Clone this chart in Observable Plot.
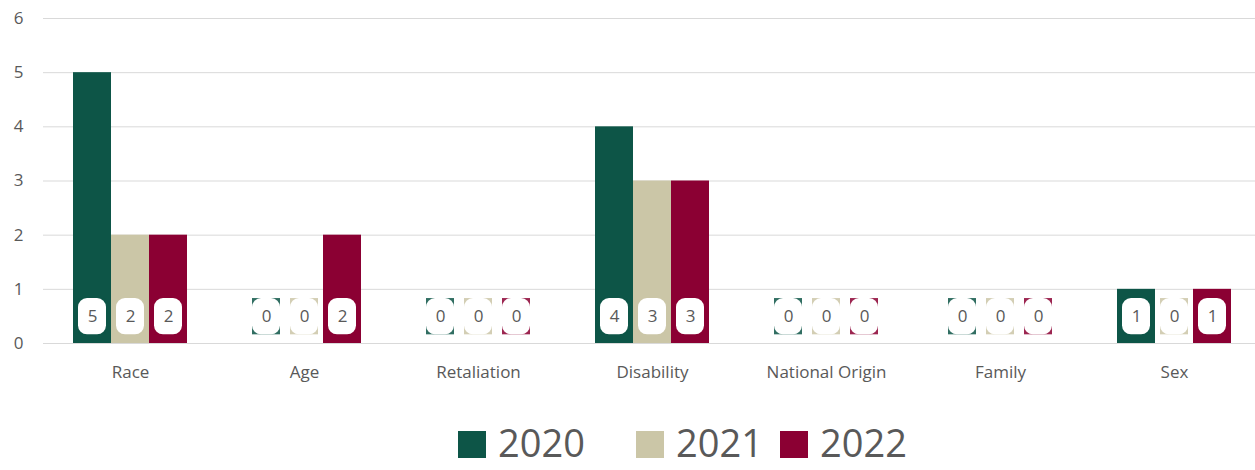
<!DOCTYPE html>
<html>
<head>
<meta charset="utf-8">
<script src="https://cdn.jsdelivr.net/npm/d3@7"></script>
<script src="https://cdn.jsdelivr.net/npm/@observablehq/plot@0.6"></script>
<style>
  html, body { margin: 0; padding: 0; background: #fff; overflow: hidden; }
  #chart svg { display: block; overflow: visible; }
  #legend { position: relative; height: 70px; font-family: "Open Sans", sans-serif; color: #595959; font-size: 38px; line-height: 38px; }
  .sw { position: absolute; top: 31px; width: 28px; height: 27px; }
  .lt { position: absolute; top: 23px; height: 38px; white-space: nowrap; }
</style>
</head>
<body>
<div id="chart"></div>
<div id="legend"></div>
<script>
const categories = ["Race", "Age", "Retaliation", "Disability", "National Origin", "Family", "Sex"];
const years = ["2020", "2021", "2022"];
const values2020 = [5, 0, 0, 4, 0, 0, 1];
const values2021 = [2, 0, 0, 3, 0, 0, 0];
const values2022 = [2, 2, 0, 3, 0, 0, 1];
const colors = ["#0d5547", "#cbc6a7", "#8b0033"];
const yTicks = [0, 1, 2, 3, 4, 5, 6];

const series = [values2020, values2021, values2022];
const font = "'Open Sans', sans-serif";
const textColor = "#595959";

// bar placement within each 174px band: group of 3 bars 38px wide, 30px side padding
const barW = 38, side = 30, band = 174;
const marks = [
  Plot.ruleY(yTicks, {stroke: "#d9d9d9", strokeWidth: 1})
];
series.forEach((vals, i) => {
  const data = categories.map((c, k) => ({category: c, value: vals[k]}));
  const insetLeft = side + barW * i;
  const insetRight = band - side - barW * (i + 1);
  marks.push(Plot.barY(data, {x: "category", y: "value", fill: colors[i], insetLeft, insetRight}));
});
series.forEach((vals, i) => {
  const data = categories.map((c, k) => ({category: c, value: vals[k]}));
  const insetLeft = side + barW * i + 5;
  const insetRight = band - side - barW * (i + 1) + 5;
  marks.push(Plot.barY(data, {x: "category", y1: () => 0.16, y2: () => 0.83, fill: colors[i], fillOpacity: 0.85, insetLeft, insetRight}));
  marks.push(Plot.barY(data, {x: "category", y1: () => 0.16, y2: () => 0.83, fill: "white", rx: 9, insetLeft, insetRight}));
  marks.push(Plot.text(data, {x: "category", y: () => 0.49, text: d => String(d.value), dx: (i - 1) * barW, fill: textColor, fontSize: 17, fontFamily: font}));
});

const chart = Plot.plot({
  width: 1255,
  height: 400,
  marginTop: 18,
  marginBottom: 57,
  marginLeft: 43,
  marginRight: 0,
  style: {fontFamily: font, fontSize: "17px", color: textColor, background: "white"},
  x: {domain: categories, range: [43, 1261], padding: 0, label: null, tickSize: 0, tickPadding: 22},
  y: {domain: [0, 6], ticks: yTicks, tickFormat: d3.format("d"), label: null, tickSize: 0, tickPadding: 20},
  marks
});
chart.style.fontSize = "17px";
document.getElementById("chart").appendChild(chart);

const legend = document.getElementById("legend");
const swatchX = [458, 636, 780];
const textX = [498, 676, 820];
years.forEach((y, i) => {
  const sw = document.createElement("div");
  sw.className = "sw";
  sw.style.left = swatchX[i] + "px";
  sw.style.background = colors[i];
  const t = document.createElement("div");
  t.className = "lt";
  t.style.left = textX[i] + "px";
  t.textContent = y;
  legend.appendChild(sw);
  legend.appendChild(t);
});
</script>
</body>
</html>
